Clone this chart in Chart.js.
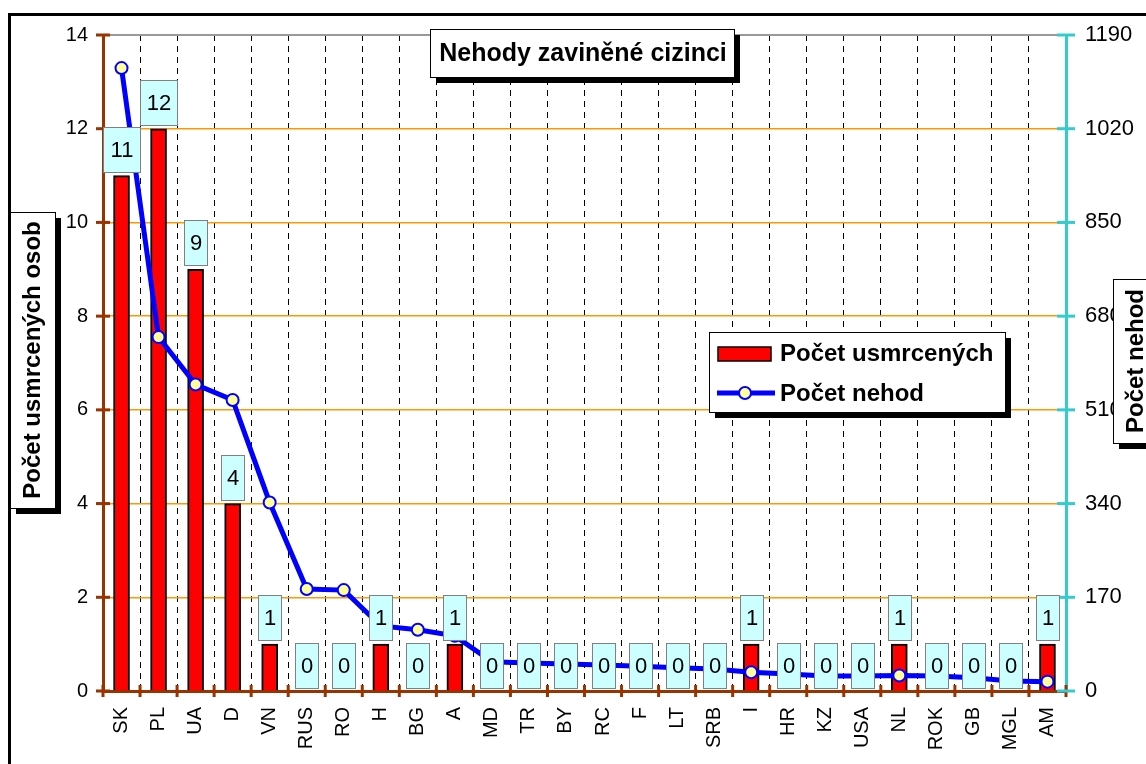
<!DOCTYPE html>
<html>
<head>
    <title>Nehody zaviněné cizinci</title>
    <script src="https://cdn.jsdelivr.net/npm/chart.js"></script>
    <style>
        body {
            margin: 0;
            background-color: #ffffff;
        }
        canvas {
            display: block;
        }
    </style>
</head>
<body>
    <canvas id="chart" width="1146" height="764"></canvas>
    <script>
        const countries = ['SK', 'PL', 'UA', 'D', 'VN', 'RUS', 'RO', 'H', 'BG', 'A', 'MD', 'TR', 'BY',
            'RC', 'F', 'LT', 'SRB', 'I', 'HR', 'KZ', 'USA', 'NL', 'ROK', 'GB', 'MGL', 'AM'];
        const deaths = [11, 12, 9, 4, 1, 0, 0, 1, 0, 1, 0, 0, 0, 0, 0, 0, 0, 1, 0, 0, 0, 1, 0, 0, 0, 1];
        const accidents = [1130, 642, 556, 528, 342, 185, 183, 118, 111, 100, 53, 51, 49, 47, 45, 42, 40,
            34, 31, 27, 27, 28, 27, 24, 18, 17];
        const deathsAxis = { min: 0, max: 14, step: 2 };
        const accidentsAxis = { min: 0, max: 1190, step: 170 };

        const BROWN = '#993300';
        const CYAN = '#33CCCC';
        const ORANGE = '#FF9900';
        const FONT = 'Arial, "Liberation Sans", sans-serif';

        Chart.defaults.font.family = FONT;
        Chart.defaults.color = '#000';

        // box with a black drop shadow, like the Excel text boxes
        function shadowBox(ctx, x, y, w, h, off) {
            ctx.fillStyle = '#000';
            ctx.fillRect(x + off, y + off, w, h);
            ctx.fillStyle = '#fff';
            ctx.fillRect(x, y, w, h);
            ctx.strokeStyle = '#000';
            ctx.lineWidth = 1;
            ctx.strokeRect(x + 0.5, y + 0.5, w, h);
        }

        const framePlugin = {
            id: 'frame',
            beforeDraw(chart) {
                const ctx = chart.ctx;
                ctx.save();
                ctx.fillStyle = '#fff';
                ctx.fillRect(0, 0, chart.width, chart.height);
                ctx.strokeStyle = '#000';
                ctx.lineWidth = 3;
                ctx.beginPath();
                ctx.moveTo(9.5, chart.height + 5);
                ctx.lineTo(9.5, 14.5);
                ctx.lineTo(chart.width + 5, 14.5);
                ctx.stroke();
                ctx.restore();
            },
            beforeDatasetsDraw(chart) {
                const ctx = chart.ctx;
                const a = chart.chartArea;
                ctx.save();
                ctx.strokeStyle = '#999';
                ctx.lineWidth = 2;
                ctx.beginPath();
                ctx.moveTo(a.left, a.top);
                ctx.lineTo(a.right, a.top);
                ctx.stroke();
                ctx.restore();
            }
        };

        const ticksPlugin = {
            id: 'crossTicks',
            afterDatasetsDraw(chart) {
                const ctx = chart.ctx;
                const a = chart.chartArea;
                const y = chart.scales.y;
                const y2 = chart.scales.y2;
                ctx.save();
                ctx.lineWidth = 3;
                ctx.strokeStyle = BROWN;
                y.ticks.forEach(t => {
                    const py = y.getPixelForValue(t.value);
                    ctx.beginPath();
                    ctx.moveTo(a.left - 7, py);
                    ctx.lineTo(a.left + 7, py);
                    ctx.stroke();
                });
                const n = countries.length;
                for (let i = 0; i <= n; i++) {
                    const px = a.left + i * (a.right - a.left) / n;
                    ctx.beginPath();
                    ctx.moveTo(px, a.bottom - 6);
                    ctx.lineTo(px, a.bottom + 6);
                    ctx.stroke();
                }
                ctx.strokeStyle = CYAN;
                y2.ticks.forEach(t => {
                    const py = y2.getPixelForValue(t.value);
                    ctx.beginPath();
                    ctx.moveTo(a.right - 9, py);
                    ctx.lineTo(a.right + 9, py);
                    ctx.stroke();
                });
                ctx.restore();
            }
        };

        const labelsPlugin = {
            id: 'barLabels',
            afterDatasetsDraw(chart) {
                const ctx = chart.ctx;
                const meta = chart.getDatasetMeta(0);
                ctx.save();
                ctx.font = '22px ' + FONT;
                ctx.textAlign = 'center';
                ctx.textBaseline = 'middle';
                meta.data.forEach((bar, i) => {
                    const text = String(deaths[i]);
                    const w = text.length > 1 ? 37 : 23;
                    const h = 45;
                    const bottom = deaths[i] > 0 ? bar.y - 4 : bar.base - 3;
                    const x = Math.round(bar.x - w / 2);
                    const top = Math.round(bottom - h);
                    ctx.fillStyle = '#CCFFFF';
                    ctx.fillRect(x, top, w, h);
                    ctx.strokeStyle = '#808080';
                    ctx.lineWidth = 1;
                    ctx.strokeRect(x + 0.5, top + 0.5, w, h);
                    ctx.fillStyle = '#000';
                    ctx.fillText(text, x + w / 2 + 0.5, top + h / 2 + 1);
                });
                ctx.restore();
            }
        };

        const boxesPlugin = {
            id: 'boxes',
            afterDraw(chart) {
                const ctx = chart.ctx;
                const barSet = chart.data.datasets[0];
                const lineSet = chart.data.datasets[1];
                ctx.save();
                ctx.textBaseline = 'middle';

                // chart title
                ctx.font = 'bold 25px ' + FONT;
                shadowBox(ctx, 430, 29, 304, 48, 6);
                ctx.fillStyle = '#000';
                ctx.textAlign = 'center';
                ctx.fillText('Nehody zaviněné cizinci', 583, 54);

                ctx.font = 'bold 24px ' + FONT;
                // legend
                shadowBox(ctx, 709, 332, 296, 80, 6);
                ctx.fillStyle = barSet.backgroundColor;
                ctx.fillRect(718, 347, 53, 14);
                ctx.strokeStyle = '#000';
                ctx.lineWidth = 1.5;
                ctx.strokeRect(718, 347, 53, 14);
                ctx.strokeStyle = lineSet.borderColor;
                ctx.lineWidth = 5;
                ctx.beginPath();
                ctx.moveTo(717, 393);
                ctx.lineTo(775, 393);
                ctx.stroke();
                ctx.beginPath();
                ctx.arc(745, 393, 6, 0, Math.PI * 2);
                ctx.fillStyle = lineSet.pointBackgroundColor;
                ctx.fill();
                ctx.lineWidth = 2;
                ctx.stroke();
                ctx.fillStyle = '#000';
                ctx.textAlign = 'left';
                ctx.fillText(barSet.label, 780, 354);
                ctx.fillText(lineSet.label, 780, 394);

                // left axis title
                shadowBox(ctx, 10, 212, 45, 296, 6);
                ctx.save();
                ctx.translate(33, 360);
                ctx.rotate(-Math.PI / 2);
                ctx.textAlign = 'center';
                ctx.fillStyle = '#000';
                ctx.fillText('Počet usmrcených osob', 0, 0);
                ctx.restore();

                // right axis title
                shadowBox(ctx, 1113, 279, 50, 164, 6);
                ctx.save();
                ctx.translate(1136, 361);
                ctx.rotate(-Math.PI / 2);
                ctx.textAlign = 'center';
                ctx.fillStyle = '#000';
                ctx.fillText('Počet nehod', 0, 0);
                ctx.restore();

                ctx.restore();
            }
        };

        const ctx = document.getElementById('chart').getContext('2d');
        new Chart(ctx, {
            type: 'bar',
            data: {
                labels: countries,
                datasets: [{
                    type: 'bar',
                    label: 'Počet usmrcených',
                    data: deaths,
                    yAxisID: 'y',
                    backgroundColor: '#FF0000',
                    borderColor: '#000',
                    borderWidth: 2,
                    barThickness: 16,
                    order: 1
                }, {
                    type: 'line',
                    label: 'Počet nehod',
                    data: accidents,
                    yAxisID: 'y2',
                    borderColor: '#0000FF',
                    borderWidth: 5,
                    pointRadius: 6,
                    pointBorderWidth: 2,
                    pointBackgroundColor: '#FFFF99',
                    pointBorderColor: '#0000FF',
                    tension: 0,
                    order: 0
                }]
            },
            options: {
                responsive: false,
                animation: false,
                devicePixelRatio: 1,
                layout: { padding: { top: 35, left: 0, right: 0, bottom: 0 } },
                plugins: {
                    legend: { display: false },
                    title: { display: false },
                    tooltip: { enabled: false }
                },
                scales: {
                    x: {
                        offset: true,
                        grid: {
                            offset: true,
                            drawTicks: false,
                            lineWidth: 1,
                            color: c => (c.type !== 'tick' || c.index === 0) ? 'transparent' : '#000'
                        },
                        border: { color: BROWN, width: 3, dash: [6, 5] },
                        ticks: {
                            autoSkip: false,
                            minRotation: 90,
                            maxRotation: 90,
                            padding: 16,
                            color: '#000',
                            font: { size: 20 }
                        },
                        afterFit(scale) { scale.height = 73; }
                    },
                    y: {
                        position: 'left',
                        min: deathsAxis.min,
                        max: deathsAxis.max,
                        grid: {
                            drawTicks: false,
                            lineWidth: 1.5,
                            color: c => (c.tick && (c.tick.value === deathsAxis.min || c.tick.value === deathsAxis.max)) ? 'transparent' : ORANGE
                        },
                        border: { color: BROWN, width: 3 },
                        ticks: {
                            stepSize: deathsAxis.step,
                            padding: 15,
                            color: '#000',
                            font: { size: 20 }
                        },
                        afterFit(scale) { scale.width = 103; }
                    },
                    y2: {
                        position: 'right',
                        min: accidentsAxis.min,
                        max: accidentsAxis.max,
                        grid: { display: false, drawOnChartArea: false, drawTicks: false },
                        border: { color: CYAN, width: 3 },
                        ticks: {
                            stepSize: accidentsAxis.step,
                            padding: 19,
                            color: '#000',
                            font: { size: 22 },
                            callback: v => String(v)
                        },
                        afterFit(scale) { scale.width = 80; }
                    }
                }
            },
            plugins: [framePlugin, ticksPlugin, labelsPlugin, boxesPlugin]
        });
    </script>
</body>
</html>
